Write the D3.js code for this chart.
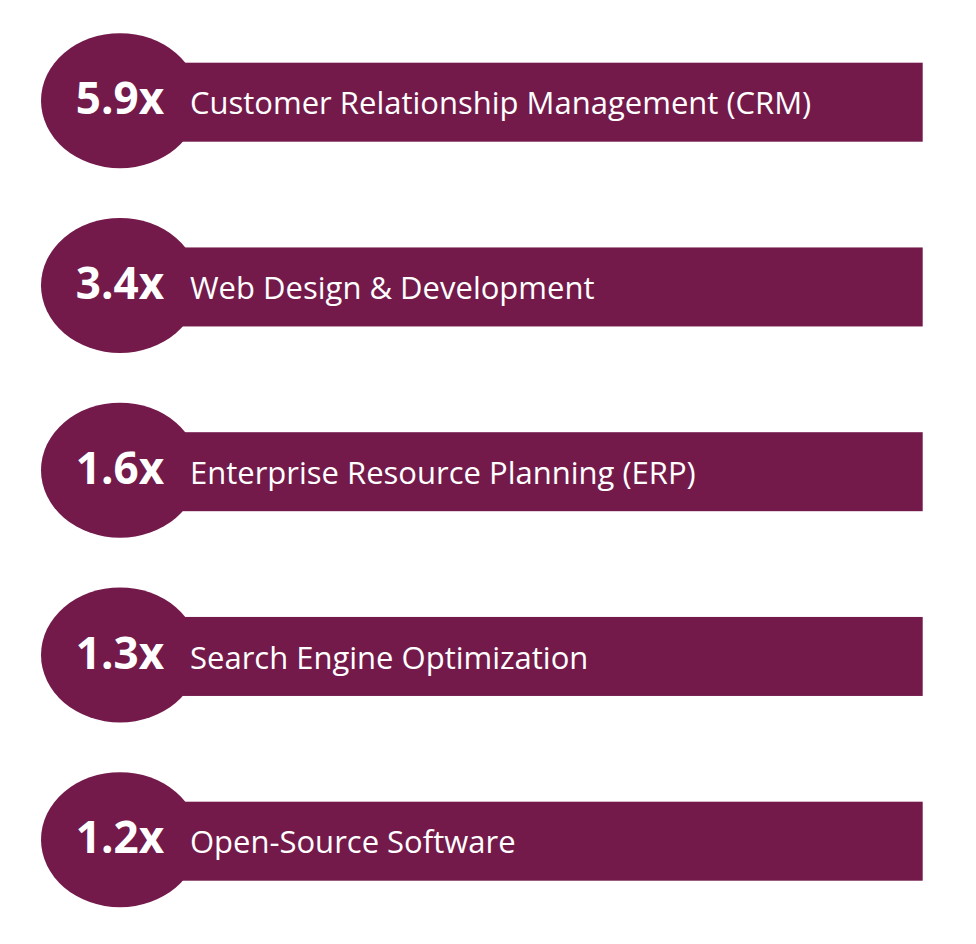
<!DOCTYPE html>
<html>
<head>
<meta charset="utf-8">
<script src="https://cdn.jsdelivr.net/npm/d3@7"></script>
<style>
    html, body { margin: 0; padding: 0; background: #ffffff; }
    svg { display: block; }
</style>
</head>
<body>
<div id="chart"></div>
<script>
"use strict"

// Data
var categories = [
    "Customer Relationship Management (CRM)",
    "Web Design & Development",
    "Enterprise Resource Planning (ERP)",
    "Search Engine Optimization",
    "Open-Source Software"
];
var multipliers = [5.9, 3.4, 1.6, 1.3, 1.2];

var width = 976,
    height = 944,
    color = "#731a4b";

var svg = d3.select("#chart").append("svg")
    .attr("width", width)
    .attr("height", height);

var data = categories.map(function(c, i){
    return {"name": c, "value": multipliers[i]};
});

// One band per row
var y = d3.scaleBand()
    .domain(categories)
    .range([62.7, 880.7])
    .paddingInner(0.5724)
    .paddingOuter(0);

var circleX = 120,
    rx = 79,
    ry = 67.5,
    barEnd = 922.7;

var rows = svg.selectAll("g.row")
    .data(data)
    .enter()
    .append("g")
    .attr("class", "row")
    .attr("transform", function(d){
        return "translate(0," + y(d.name) + ")";
    });

// bar behind the bubble
rows.append("rect")
    .attr("x", circleX)
    .attr("y", 0)
    .attr("width", barEnd - circleX)
    .attr("height", y.bandwidth())
    .attr("fill", color);

rows.append("ellipse")
    .attr("cx", circleX)
    .attr("cy", y.bandwidth() / 2 - 1.5)
    .attr("rx", rx)
    .attr("ry", ry)
    .attr("fill", color);

// multiplier in the bubble
rows.append("text")
    .attr("x", circleX)
    .attr("y", 51.6)
    .attr("text-anchor", "middle")
    .attr("fill", "#ffffff")
    .style("font-family", "'Open Sans', sans-serif")
    .style("font-weight", "700")
    .style("font-size", "44px")
    .text(function(d){
        return d3.format(".1f")(d.value) + "x";
    });

// category label on the bar
rows.append("text")
    .attr("x", 190)
    .attr("y", 51.6)
    .attr("fill", "#ffffff")
    .style("font-family", "'Open Sans', sans-serif")
    .style("font-size", "31px")
    .text(function(d){
        return d.name;
    });
</script>
</body>
</html>
